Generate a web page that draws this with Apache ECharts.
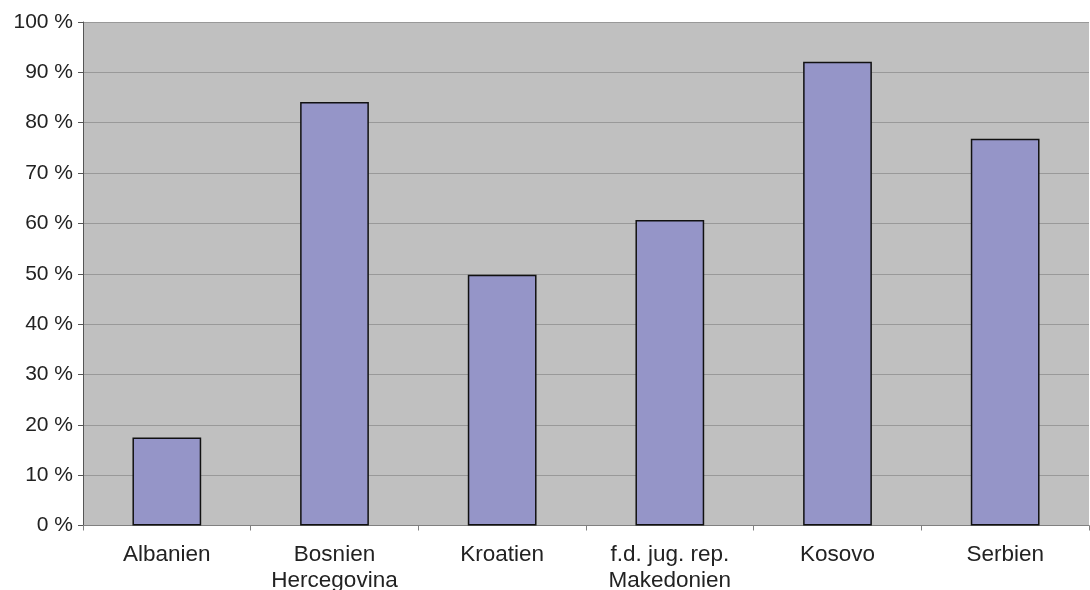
<!DOCTYPE html>
<html>
<head>
<meta charset="utf-8">
<script src="https://cdn.jsdelivr.net/npm/echarts@6/dist/echarts.min.js"></script>
<style>
  html, body { margin: 0; padding: 0; background: #ffffff; }
  #chart { width: 1090px; height: 590px; }
</style>
</head>
<body>
<div id="chart"></div>
<script>
// Share per country, in percent
const categories = ['Albanien', 'Bosnien\nHercegovina', 'Kroatien', 'f.d. jug. rep.\nMakedonien', 'Kosovo', 'Serbien'];
const shareValues = [17.5, 84.1, 49.8, 60.7, 92.1, 76.8];
const yTicks = [0, 10, 20, 30, 40, 50, 60, 70, 80, 90, 100];

const chart = echarts.init(document.getElementById('chart'), null, { renderer: 'canvas' });

chart.setOption({
  animation: false,
  textStyle: { fontFamily: 'Liberation Sans, Arial, sans-serif' },
  grid: {
    left: 83, right: 1, top: 22, bottom: 64.5,
    outerBoundsMode: 'none',
    containLabel: false,
    show: true,
    backgroundColor: '#c0c0c0',
    borderWidth: 0
  },
  xAxis: {
    type: 'category',
    data: categories,
    axisLine: { show: true, lineStyle: { color: '#808080', width: 1 } },
    axisTick: { show: true, alignWithLabel: false, length: 5, lineStyle: { color: '#808080' } },
    axisLabel: { color: '#222222', fontSize: 22.5, margin: 16, lineHeight: 26, interval: 0 },
    splitLine: { show: false }
  },
  yAxis: {
    type: 'value',
    min: yTicks[0],
    max: yTicks[yTicks.length - 1],
    interval: 10,
    axisLine: { show: true, lineStyle: { color: '#555555', width: 1 } },
    axisTick: { show: true, length: 5, lineStyle: { color: '#555555' } },
    axisLabel: { color: '#222222', fontSize: 21, margin: 10, formatter: v => v + ' %' },
    splitLine: { show: true, lineStyle: { color: '#999999', width: 1 } }
  },
  series: [{
    type: 'bar',
    data: shareValues,
    barWidth: '41%',
    itemStyle: { color: '#9595c8', borderColor: '#111111', borderWidth: 1.5 }
  }]
});
</script>
</body>
</html>
